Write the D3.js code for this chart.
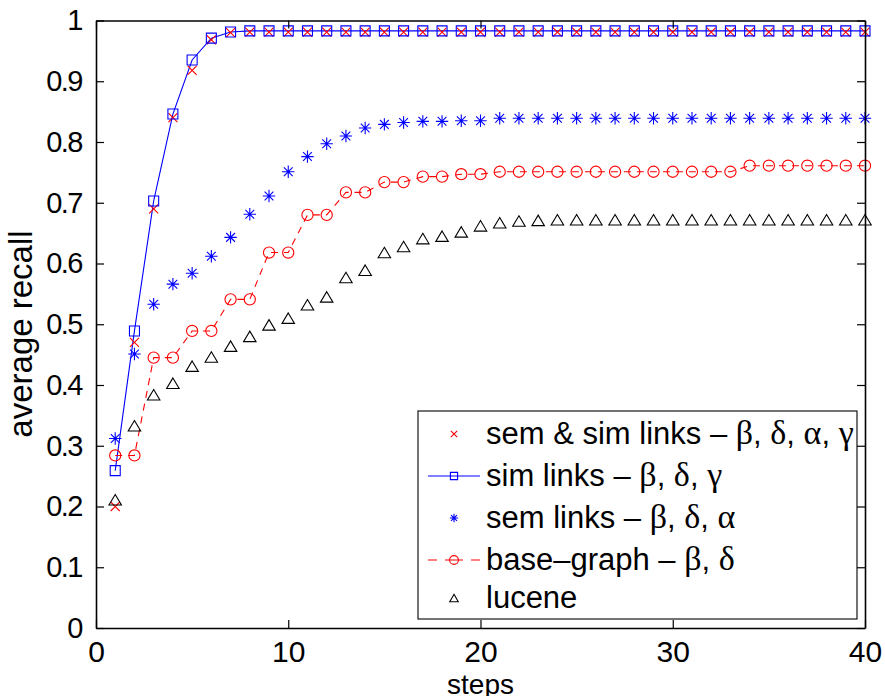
<!DOCTYPE html>
<html>
<head>
<meta charset="utf-8">
<script src="https://cdn.jsdelivr.net/npm/d3@7"></script>
<style>
  html, body { margin: 0; padding: 0; background: #fff; }
  svg { display: block; }
  text { font-family: "Liberation Sans", Arial, Helvetica, sans-serif; fill: #000; }
  .greek { font-family: "Liberation Serif", "DejaVu Serif", serif; font-size: 34px; }
</style>
</head>
<body>
<svg id="chart" width="885" height="696"></svg>
<script>
// Retrieval steps (x values)
const steps = [1,2,3,4,5,6,7,8,9,10,11,12,13,14,15,16,17,18,19,20,
               21,22,23,24,25,26,27,28,29,30,31,32,33,34,35,36,37,38,39,40];

// Average recall per step for each configuration
const semSimLinks = [0.200,0.470,0.690,0.840,0.918,0.968,0.980,0.981,0.981,0.981,
                     0.981,0.981,0.981,0.981,0.981,0.981,0.981,0.981,0.981,0.981,
                     0.981,0.981,0.981,0.981,0.981,0.981,0.981,0.981,0.981,0.981,
                     0.981,0.981,0.981,0.981,0.981,0.981,0.981,0.981,0.981,0.981];
const simLinks    = [0.259,0.489,0.703,0.846,0.935,0.971,0.981,0.983,0.983,0.983,
                     0.983,0.983,0.983,0.983,0.983,0.983,0.983,0.983,0.983,0.983,
                     0.983,0.983,0.983,0.983,0.983,0.983,0.983,0.983,0.983,0.983,
                     0.983,0.983,0.983,0.983,0.983,0.983,0.983,0.983,0.983,0.983];
const semLinks    = [0.312,0.451,0.533,0.566,0.584,0.612,0.643,0.681,0.711,0.751,
                     0.776,0.797,0.810,0.823,0.829,0.832,0.834,0.834,0.835,0.835,
                     0.839,0.839,0.839,0.839,0.839,0.839,0.839,0.839,0.839,0.839,
                     0.839,0.839,0.839,0.839,0.839,0.839,0.839,0.839,0.839,0.839];
const baseGraph   = [0.284,0.284,0.445,0.445,0.489,0.489,0.541,0.541,0.618,0.618,
                     0.680,0.680,0.717,0.717,0.734,0.734,0.743,0.743,0.747,0.747,
                     0.751,0.751,0.751,0.751,0.751,0.751,0.751,0.751,0.751,0.751,
                     0.751,0.751,0.751,0.761,0.761,0.761,0.761,0.761,0.761,0.761];
const lucene      = [0.211,0.333,0.384,0.403,0.431,0.446,0.464,0.480,0.499,0.510,
                     0.532,0.545,0.577,0.589,0.618,0.628,0.641,0.645,0.652,0.662,
                     0.667,0.670,0.671,0.672,0.672,0.672,0.672,0.672,0.672,0.672,
                     0.672,0.672,0.672,0.672,0.672,0.672,0.672,0.672,0.672,0.672];

const xTicks = [0,10,20,30,40];
const yTicks = [0,0.1,0.2,0.3,0.4,0.5,0.6,0.7,0.8,0.9,1];
const yTickLabels = ["0","0.1","0.2","0.3","0.4","0.5","0.6","0.7","0.8","0.9","1"];

const legendLabels = [
  ["sem & sim links \u2013 ", "\u03b2", ", ", "\u03b4", ", ", "\u03b1", ", ", "\u03b3"],
  ["sim links \u2013 ", "\u03b2", ", ", "\u03b4", ", ", "\u03b3"],
  ["sem links \u2013 ", "\u03b2", ", ", "\u03b4", ", ", "\u03b1"],
  ["base\u2013graph \u2013 ", "\u03b2", ", ", "\u03b4"],
  ["lucene"]
];

const plotLeft = 96, plotRight = 865, plotTop = 20.5, plotBottom = 628;
const svg = d3.select("#chart");

const x = d3.scaleLinear().domain([0, 40]).range([plotLeft, plotRight]);
const y = d3.scaleLinear().domain([0, 1]).range([plotBottom, plotTop]);

// ---- marker path generators (centred on 0,0) ----
function crossPath(h) { return `M${-h},${-h}L${h},${h}M${-h},${h}L${h},${-h}`; }
function squarePath(h) { return `M${-h},${-h}H${h}V${h}H${-h}Z`; }
function starPath(h) {
  const d = h * Math.SQRT1_2;
  return `M${-h},0H${h}M0,${-h}V${h}M${-d},${-d}L${d},${d}M${-d},${d}L${d},${-d}`;
}
function circlePath(r) {
  return `M${-r},0A${r},${r} 0 1,0 ${r},0A${r},${r} 0 1,0 ${-r},0Z`;
}
function trianglePath(w, h) {
  return `M0,${-h/2}L${w/2},${h/2}L${-w/2},${h/2}Z`;
}

const series = [
  { values: semSimLinks, color: "#ff0000", line: null,    marker: crossPath(4.5),          legendMarker: crossPath(3.2) },
  { values: simLinks,    color: "#0000ff", line: "solid", marker: squarePath(5),           legendMarker: squarePath(3.6) },
  { values: semLinks,    color: "#0000ff", line: null,    marker: starPath(6.2),           legendMarker: starPath(4.2) },
  { values: baseGraph,   color: "#ff0000", line: "dash",  marker: circlePath(5.6),         legendMarker: circlePath(4.4) },
  { values: lucene,      color: "#000000", line: null,    marker: trianglePath(12.5, 10.5), legendMarker: trianglePath(8.5, 7.5) }
];

const plot = svg.append("g");

// ---- series lines ----
const lineGen = d3.line().x((d, i) => x(steps[i])).y(d => y(d));
series.forEach(s => {
  if (!s.line) return;
  plot.append("path")
    .attr("d", lineGen(s.values))
    .attr("fill", "none")
    .attr("stroke", s.color)
    .attr("stroke-width", 1.1)
    .attr("stroke-dasharray", s.line === "dash" ? "7,6" : null);
});

// ---- series markers ----
series.forEach(s => {
  plot.append("g").selectAll("path")
    .data(s.values)
    .join("path")
    .attr("transform", (d, i) => `translate(${x(steps[i])},${y(d)})`)
    .attr("d", s.marker)
    .attr("fill", "none")
    .attr("stroke", s.color)
    .attr("stroke-width", 1.1);
});

// ---- axes (box with inward ticks on all four sides) ----
const tickLen = 8;
const axisBottom = d3.axisBottom(x).tickValues(xTicks).tickSizeInner(-tickLen).tickSizeOuter(0).tickPadding(13).tickFormat(d3.format("d"));
const axisTop    = d3.axisTop(x).tickValues(xTicks).tickSizeInner(-tickLen).tickSizeOuter(0).tickFormat("");
const axisLeft   = d3.axisLeft(y).tickValues(yTicks).tickSizeInner(-tickLen).tickSizeOuter(0).tickPadding(14).tickFormat((d, i) => yTickLabels[i]);
const axisRight  = d3.axisRight(y).tickValues(yTicks).tickSizeInner(-tickLen).tickSizeOuter(0).tickFormat("");

function styleAxis(g) {
  g.select(".domain").attr("stroke", "#000").attr("stroke-width", 1.6);
  g.selectAll(".tick line").attr("stroke", "#000").attr("stroke-width", 1.2);
  g.selectAll(".tick text").attr("font-size", 29).attr("fill", "#000")
    .style("font-family", "'Liberation Sans', Arial, sans-serif");
}

svg.append("g").attr("transform", `translate(0,${plotBottom})`).call(axisBottom).call(styleAxis)
  .selectAll(".tick text").attr("font-size", 30);
svg.append("g").attr("transform", `translate(0,${plotTop})`).call(axisTop).call(styleAxis);
svg.append("g").attr("transform", `translate(${plotLeft},0)`).call(axisLeft).call(styleAxis)
  .selectAll(".tick text").attr("letter-spacing", -1.5);
svg.append("g").attr("transform", `translate(${plotRight},0)`).call(axisRight).call(styleAxis);

// ---- axis titles ----
svg.append("text")
  .attr("x", (plotLeft + plotRight) / 2).attr("y", 694)
  .attr("text-anchor", "middle").attr("font-size", 28)
  .text("steps");
svg.append("text")
  .attr("transform", `translate(32,334) rotate(-90)`)
  .attr("text-anchor", "middle").attr("font-size", 33)
  .text("average recall");

// ---- legend ----
const legend = svg.append("g");
legend.append("rect")
  .attr("x", 418).attr("y", 411).attr("width", 439).attr("height", 208)
  .attr("fill", "#fff").attr("stroke", "#000").attr("stroke-width", 1.1);

const rowY = [434, 476, 518, 560, 598];
series.forEach((s, i) => {
  const g = legend.append("g").attr("transform", `translate(0,${rowY[i]})`);
  if (s.line === "solid") {
    g.append("line").attr("x1", 428).attr("x2", 480).attr("y1", 0).attr("y2", 0)
      .attr("stroke", s.color).attr("stroke-width", 1.1);
  } else if (s.line === "dash") {
    g.append("line").attr("x1", 428).attr("x2", 480).attr("y1", 0).attr("y2", 0)
      .attr("stroke", s.color).attr("stroke-width", 1.1).attr("stroke-dasharray", "9,8,18,8,9");
  }
  g.append("path").attr("transform", "translate(454,0)").attr("d", s.legendMarker)
    .attr("fill", "none").attr("stroke", s.color).attr("stroke-width", 1.1);
  const t = g.append("text").attr("x", 486).attr("y", 10).attr("font-size", 31);
  legendLabels[i].forEach((part, k) => {
    t.append("tspan").attr("class", k % 2 === 1 ? "greek" : null).text(part);
  });
});
</script>
</body>
</html>
